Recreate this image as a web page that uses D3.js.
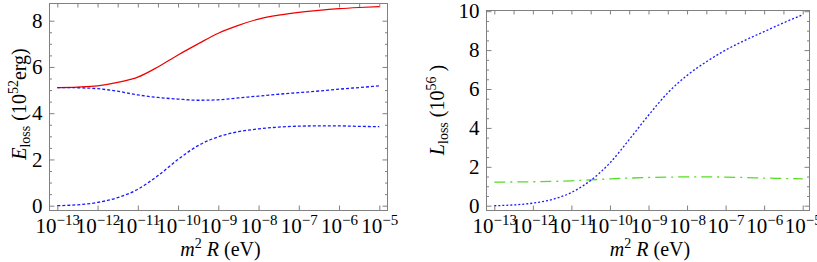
<!DOCTYPE html>
<html>
<head>
<meta charset="utf-8">
<script src="https://cdn.jsdelivr.net/npm/d3@7"></script>
<style>
  html, body { margin: 0; padding: 0; background: #fff; }
  svg { display: block; }
  svg text { font-family: "Liberation Serif", "Times New Roman", serif; }
</style>
</head>
<body>
<svg id="chart" width="817" height="262"></svg>
<script>
// ---- data (x given as exponent of 10, in eV) ----
const xExp = [-13, -12.5, -12, -11.5, -11, -10.5, -10, -9.5, -9, -8.5, -8, -7.5, -7, -6.5, -6, -5.5, -5];
// left panel: E_loss (10^52 erg)
const eTotal = [5.11, 5.13, 5.18, 5.33, 5.56, 6.00, 6.52, 7.00, 7.46, 7.80, 8.07, 8.24, 8.36, 8.45, 8.52, 8.57, 8.61];
const eUpper = [5.11, 5.10, 5.06, 4.95, 4.79, 4.68, 4.61, 4.56, 4.58, 4.66, 4.74, 4.82, 4.89, 4.96, 5.04, 5.11, 5.18];
const eLower = [0.00, 0.04, 0.14, 0.35, 0.71, 1.30, 2.00, 2.60, 2.98, 3.20, 3.32, 3.40, 3.44, 3.45, 3.45, 3.43, 3.42];
// right panel: L_loss (10^56)
const lBlue  = [0.00, 0.04, 0.13, 0.32, 0.68, 1.30, 2.20, 3.40, 4.65, 5.80, 6.70, 7.40, 8.00, 8.50, 8.95, 9.40, 9.82];
const lGreen = [1.21, 1.22, 1.23, 1.25, 1.28, 1.33, 1.38, 1.42, 1.45, 1.47, 1.48, 1.48, 1.47, 1.45, 1.42, 1.40, 1.38];
// ticks
const xTickExp = [-13, -12, -11, -10, -9, -8, -7, -6, -5];
const yTicksLeft = [0, 2, 4, 6, 8];
const yTicksRight = [0, 2, 4, 6, 8, 10];

const svg = d3.select("#chart");
const FRAME = "#808080";
const FONT = "Liberation Serif";

function panel(cfg) {
  const g = svg.append("g").attr("font-family", FONT);
  const x = d3.scaleLog().domain([1e-13, 1e-5]).range([cfg.xr0, cfg.xr1]);
  const y = d3.scaleLinear().domain(cfg.yDom).range([cfg.yr0, cfg.yr1]);

  // frame
  g.append("rect").attr("x", cfg.fl).attr("y", cfg.ft)
    .attr("width", cfg.fr - cfg.fl).attr("height", cfg.fb - cfg.ft)
    .attr("fill", "none").attr("stroke", FRAME).attr("stroke-width", 1);

  // bottom axis (ticks inward)
  const ax = d3.axisBottom(x).tickValues(xTickExp.map(e => Math.pow(10, e)))
    .tickSize(-5).tickPadding(0).tickFormat(() => "");
  const gx = g.append("g").attr("transform", `translate(0,${cfg.fb})`).call(ax)
    .attr("font-family", FONT);
  gx.select(".domain").remove();
  gx.selectAll(".tick line").attr("stroke", FRAME);
  gx.selectAll(".tick text").remove();
  gx.selectAll(".tick").each(function(d) {
    const e = Math.round(Math.log10(d));
    const t = d3.select(this).append("text")
      .attr("y", 233 - cfg.fb).attr("text-anchor", "middle")
      .attr("fill", "#000").attr("font-size", 21).attr("font-family", FONT);
    t.append("tspan").text("10");
    t.append("tspan").attr("dy", -8).attr("font-size", 15).text("\u2212" + Math.abs(e));
  });

  // top ticks (half decades, no labels)
  const topTicks = d3.range(-13, -4.9, 0.5).map(e => Math.pow(10, e));
  const at = d3.axisTop(x).tickValues(topTicks).tickSize(-4).tickFormat(() => "");
  const gt = g.append("g").attr("transform", `translate(0,${cfg.ft})`).call(at);
  gt.select(".domain").remove();
  gt.selectAll(".tick line").attr("stroke", FRAME);

  // left axis
  const ay = d3.axisLeft(y).tickValues(cfg.yTicks).tickSize(-5).tickPadding(7)
    .tickFormat(d3.format("d"));
  const gy = g.append("g").attr("transform", `translate(${cfg.fl},0)`).call(ay)
    .attr("font-family", FONT);
  gy.select(".domain").remove();
  gy.selectAll(".tick line").attr("stroke", FRAME);
  gy.selectAll(".tick text").attr("font-size", 21).attr("fill", "#000")
    .attr("font-family", FONT);
  // minor y ticks
  const minor = d3.range(cfg.yDom[0], cfg.yDom[1] + 0.01, 0.5).filter(v => v % 2 !== 0);
  const aym = d3.axisLeft(y).tickValues(minor).tickSize(-2.5).tickFormat(() => "");
  const gym = g.append("g").attr("transform", `translate(${cfg.fl},0)`).call(aym);
  gym.select(".domain").remove();
  gym.selectAll(".tick line").attr("stroke", FRAME);
  // right side ticks
  const allY = d3.range(cfg.yDom[0], cfg.yDom[1] + 0.01, 0.5);
  const ar = d3.axisRight(y).tickValues(allY).tickSize(-3).tickFormat(() => "");
  const gr = g.append("g").attr("transform", `translate(${cfg.fr},0)`).call(ar);
  gr.select(".domain").remove();
  gr.selectAll(".tick line").attr("stroke", FRAME)
    .attr("x2", d => (d % 2 === 0 ? -5 : -2.5));

  // curves
  const line = d3.line().x((d, i) => x(Math.pow(10, xExp[i]))).y(d => y(d))
    .curve(d3.curveMonotoneX);
  cfg.series.forEach(s => {
    g.append("path").datum(s.values).attr("d", line)
      .attr("fill", "none").attr("stroke", s.color).attr("stroke-width", s.width || 1.1)
      .attr("stroke-dasharray", s.dash || null);
  });

  // x title
  const xt = g.append("text").attr("x", (cfg.fl + cfg.fr) / 2 + 2).attr("y", 256)
    .attr("text-anchor", "middle").attr("font-size", 20).attr("fill", "#000")
    .attr("font-family", FONT);
  xt.append("tspan").attr("font-style", "italic").text("m");
  xt.append("tspan").attr("dy", -8).attr("font-size", 14).text("2");
  xt.append("tspan").attr("dy", 8).text(" ");
  xt.append("tspan").attr("font-style", "italic").text("R");
  xt.append("tspan").text(" (eV)");

  // y title
  const yt = g.append("text")
    .attr("transform", `translate(${cfg.ytx},${cfg.yty}) rotate(-90)`)
    .attr("text-anchor", "middle").attr("font-size", 20).attr("fill", "#000")
    .attr("font-family", FONT);
  yt.append("tspan").attr("font-style", "italic").text(cfg.ySym);
  yt.append("tspan").attr("dy", 4).attr("font-size", 14).text("loss");
  yt.append("tspan").attr("dy", -4).text("  (10");
  yt.append("tspan").attr("dy", -8).attr("font-size", 14).text(cfg.yExp);
  yt.append("tspan").attr("dy", 8).text(cfg.yUnit + ")");
}

panel({
  xr0: 57.3, xr1: 379.3, fl: 49.5, fr: 387.5, ft: 3.5, fb: 210.5,
  yDom: [0, 8], yr0: 205.7, yr1: 20.7, yTicks: yTicksLeft,
  ytx: 26, yty: 104, ySym: "E", yExp: "52", yUnit: "erg",
  series: [
    { values: eTotal, color: "#ee0000", width: 1.2 },
    { values: eUpper, color: "#1a1aff", dash: "3,2", width: 1.3 },
    { values: eLower, color: "#1a1aff", dash: "3,2", width: 1.3 }
  ]
});

panel({
  xr0: 494.3, xr1: 802.7, fl: 486.5, fr: 809.5, ft: 10.5, fb: 210.5,
  yDom: [0, 10], yr0: 205.7, yr1: 11.2, yTicks: yTicksRight,
  ytx: 444, yty: 110, ySym: "L", yExp: "56", yUnit: " ",
  series: [
    { values: lGreen, color: "#55dd22", dash: "11,5,2,5", width: 1.3 },
    { values: lBlue, color: "#1a1aff", dash: "2,2", width: 1.3 }
  ]
});
</script>
</body>
</html>
